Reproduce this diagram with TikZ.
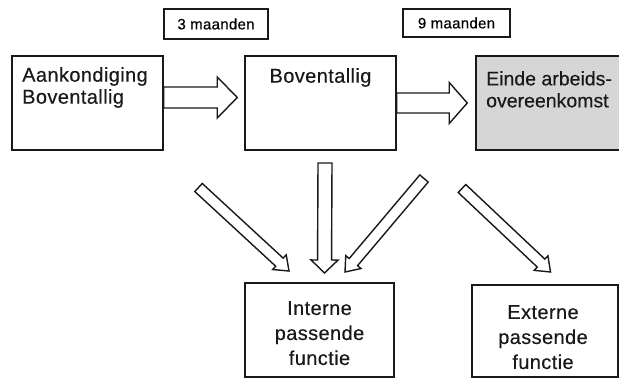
\documentclass[tikz,border=0pt]{standalone}
\usepackage{fontspec}
\setmainfont{Liberation Sans}[LetterSpace=2, FakeBold=0.3]
\usetikzlibrary{calc}
\definecolor{eindegray}{RGB}{214,214,214}
\definecolor{inkblack}{RGB}{25,25,25}
% block arrow: #1 tail, #2 tip, #3 shaft half width, #4 head half width, #5 head length
\newcommand{\blockarrow}[5]{%
  \coordinate (#1h) at ($(#2)!#5!(#1)$);
  \draw[barrow] ($(#1)!#3!90:(#2)$) -- ($(#1h)!#3!90:(#2)$) -- ($(#1h)!#4!90:(#2)$) -- (#2)
    -- ($(#1h)!#4!-90:(#2)$) -- ($(#1h)!#3!-90:(#2)$) -- ($(#1)!#3!-90:(#2)$) -- cycle;}
\begin{document}
\begin{tikzpicture}[x=1pt,y=-1pt,
  box/.style={draw=inkblack, line width=1.5pt, inner sep=0pt},
  smallbox/.style={draw=inkblack, line width=1.3pt, inner sep=0pt, font=\fontsize{15}{17}\selectfont},
  barrow/.style={draw=inkblack, line width=1.4pt, fill=white, line join=miter},
  txt/.style={inner sep=0pt, text=inkblack, font=\fontsize{20}{22}\selectfont},
  txtb/.style={inner sep=0pt, text=inkblack, font=\fontsize{20}{25}\selectfont, align=center, anchor=north}]
\useasboundingbox (0,0) rectangle (619,378);
\clip (0,0) rectangle (619,378);
\fill[white] (0,0) rectangle (619,378);

% small period boxes
\node[smallbox, minimum width=104pt, minimum height=30pt] (m3) at (216,24) {3 maanden};
\node[smallbox, minimum width=107pt, minimum height=28pt] (m9) at (456.5,23) {9 maanden};

% main boxes
\node[box, minimum width=151pt, minimum height=94pt] (aank) at (87.5,103) {};
\node[box, minimum width=151pt, minimum height=94pt] (bov) at (320.5,103) {};
\node[box, fill=eindegray, minimum width=164pt, minimum height=94pt] (einde) at (558,103) {};
\node[box, minimum width=149pt, minimum height=94pt] (intern) at (319.5,330) {};
\node[box, minimum width=146pt, minimum height=92pt] (extern) at (545,331) {};

% texts
\node[txt, anchor=north west, align=left] (taank) at (22,67) {Aankondiging\\Boventallig};
\node[txt, anchor=north] (tbov) at (320.5,68) {Boventallig};
\node[txt, anchor=north west, align=left, font=\fontsize{19.5}{22}\selectfont\addfontfeatures{LetterSpace=0}] (teinde) at (486,71) {Einde arbeids-\\overeenkomst};
\node[txtb] (tintern) at (319.5,301) {Interne\\passende\\functie};
\node[txtb] (textern) at (543,305) {Externe\\passende\\functie};

% arrows
\coordinate (a1s) at ($(aank.east)+(0,-5.5)$);
\coordinate (a1e) at ($(bov.west)+(-7,-5.5)$);
\blockarrow{a1s}{a1e}{10.5pt}{20.5pt}{20pt}
\coordinate (a2s) at ($(bov.east)+(0,0)$);
\coordinate (a2e) at ($(einde.west)+(-8,0)$);
\blockarrow{a2s}{a2e}{10pt}{20.5pt}{18pt}
\coordinate (a3s) at (198.5,187.5);
\coordinate (a3e) at (289,271);
\blockarrow{a3s}{a3e}{5.5pt}{10pt}{13pt}
\coordinate (a4s) at (325,163);
\coordinate (a4e) at (324.5,273);
\blockarrow{a4s}{a4e}{7pt}{13.5pt}{13pt}
\coordinate (a5s) at (424,178.5);
\coordinate (a5e) at (345,272);
\blockarrow{a5s}{a5e}{5.5pt}{10pt}{13pt}
\coordinate (a6s) at (462,188.5);
\coordinate (a6e) at (550.5,272);
\blockarrow{a6s}{a6e}{5.5pt}{10pt}{13pt}
\end{tikzpicture}
\end{document}
